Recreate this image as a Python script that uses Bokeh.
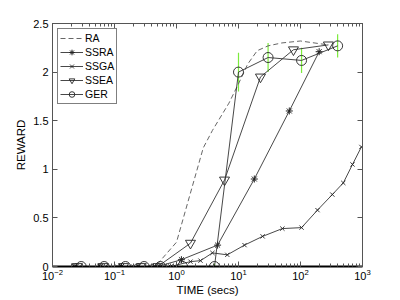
from bokeh.plotting import figure
from bokeh.models import (Range1d, LogAxis, LinearAxis, FixedTicker, LogTicker,
                          Legend, LegendItem, CustomJSTickFormatter)
from bokeh.embed import file_html
from bokeh.resources import INLINE

# ---------------- data ----------------
ra_x = [0.025, 0.07, 0.15, 0.3, 0.5, 1.0, 2.7, 3.8, 7.0, 10.0, 14.0, 20.0, 30.0, 50.0, 100.0, 280.0]
ra_y = [0.0, 0.0, 0.0, 0.0, 0.03, 0.25, 1.22, 1.4, 1.68, 1.88, 2.08, 2.22, 2.27, 2.3, 2.32, 2.28]

ssra_x = [0.024, 0.06, 0.13, 0.24, 0.5, 1.2, 4.6, 18.0, 66.0, 200.0]
ssra_y = [0.0, 0.0, 0.0, 0.0, 0.0, 0.07, 0.22, 0.9, 1.6, 2.21]

ssga_x = [0.023, 0.058, 0.11, 0.2, 0.45, 0.8, 1.68, 2.44, 3.8, 6.6, 12.5, 24.5, 51.0, 104.0, 188.0, 326.0, 490.0, 690.0, 960.0]
ssga_y = [0.0, 0.0, 0.0, 0.0, 0.0, 0.0, 0.05, 0.06, 0.14, 0.12, 0.22, 0.31, 0.39, 0.40, 0.58, 0.74, 0.86, 1.05, 1.23]

ssea_x = [0.025, 0.065, 0.14, 0.27, 0.5, 1.68, 5.95, 22.6, 77.0, 282.0]
ssea_y = [0.0, 0.0, 0.0, 0.0, 0.0, 0.24, 0.89, 1.95, 2.23, 2.28]

ger_x = [0.029, 0.068, 0.15, 0.3, 0.55, 1.25, 4.1, 10.0, 30.0, 104.0, 397.0]
ger_y = [0.0, 0.0, 0.0, 0.0, 0.0, 0.0, 0.0, 2.0, 2.15, 2.12, 2.27]
ger_err = [0.0, 0.0, 0.0, 0.0, 0.0, 0.01, 0.03, 0.2, 0.15, 0.13, 0.12]

y_ticks = [0, 0.5, 1, 1.5, 2, 2.5]

FONT = "Liberation Sans"
LINE_C = "#333333"
MARK_C = "#222222"
AX_C = "#555555"

p = figure(width=400, height=300, x_axis_type="log",
           x_range=Range1d(0.01, 1000), y_range=Range1d(0, 2.5),
           output_backend="svg", toolbar_location=None,
           min_border_left=52, min_border_right=38,
           min_border_top=23, min_border_bottom=34)
p.xgrid.visible = False
p.ygrid.visible = False
p.outline_line_color = AX_C
p.background_fill_color = "white"
p.border_fill_color = "white"

empty_fmt = CustomJSTickFormatter(code="return '';")

xa = p.xaxis[0]
xa.ticker = LogTicker(num_minor_ticks=10)
xa.major_tick_in = 5
xa.major_tick_out = 0
xa.minor_tick_in = 3
xa.minor_tick_out = 0
xa.major_label_text_font = FONT
xa.major_label_text_font_size = "11px"
xa.major_label_text_color = "black"
xa.major_label_standoff = 2
xa.axis_line_color = "black"
xa.axis_line_width = 2
xa.major_tick_line_color = AX_C
xa.minor_tick_line_color = AX_C
xa.axis_label = "TIME (secs)"
xa.axis_label_text_font = FONT
xa.axis_label_text_font_size = "11.5px"
xa.axis_label_text_font_style = "normal"
xa.axis_label_text_color = "black"
xa.axis_label_standoff = 1

ya = p.yaxis[0]
ya.ticker = FixedTicker(ticks=y_ticks)
ya.formatter = CustomJSTickFormatter(code="return String(tick);")
ya.major_tick_in = 5
ya.major_tick_out = 0
ya.minor_tick_in = 0
ya.minor_tick_out = 0
ya.major_label_text_font = FONT
ya.major_label_text_font_size = "11px"
ya.major_label_text_color = "black"
ya.major_label_standoff = 4
ya.axis_line_color = AX_C
ya.major_tick_line_color = AX_C
ya.axis_label = "REWARD"
ya.axis_label_text_font = FONT
ya.axis_label_text_font_size = "11.5px"
ya.axis_label_text_font_style = "normal"
ya.axis_label_text_color = "black"
ya.axis_label_standoff = 3

top = LogAxis(ticker=LogTicker(num_minor_ticks=10), formatter=empty_fmt,
              major_tick_in=5, major_tick_out=0, minor_tick_in=3, minor_tick_out=0,
              axis_line_color=AX_C, major_tick_line_color=AX_C, minor_tick_line_color=AX_C,
              major_label_standoff=0)
p.add_layout(top, "above")
right = LinearAxis(ticker=FixedTicker(ticks=y_ticks), formatter=empty_fmt,
                   major_tick_in=5, major_tick_out=0, minor_tick_in=0, minor_tick_out=0,
                   axis_line_color=AX_C, major_tick_line_color=AX_C,
                   major_label_standoff=0)
p.add_layout(right, "right")

p.segment(x0=ger_x, x1=ger_x, y0=[a - e for a, e in zip(ger_y, ger_err)],
          y1=[a + e for a, e in zip(ger_y, ger_err)], line_color="#7CEB3C", line_width=1.2)

LW = 0.9
r_ra = p.line(ra_x, ra_y, line_color="#555555", line_width=LW, line_dash="5 3")

r_ssra_l = p.line(ssra_x, ssra_y, line_color=LINE_C, line_width=LW)
r_ssra_m = p.scatter(ssra_x, ssra_y, marker="asterisk", size=7, line_color=MARK_C, line_width=1)

r_ssga_l = p.line(ssga_x, ssga_y, line_color=LINE_C, line_width=LW)
r_ssga_m = p.scatter(ssga_x, ssga_y, marker="x", size=6, line_color=MARK_C, line_width=0.9)

r_ssea_l = p.line(ssea_x, ssea_y, line_color=LINE_C, line_width=LW)
r_ssea_m = p.scatter(ssea_x, ssea_y, marker="inverted_triangle", size=10, line_color=MARK_C,
                     fill_color=None, line_width=0.9)

r_ger_l = p.line(ger_x, ger_y, line_color=LINE_C, line_width=LW)
r_ger_m = p.scatter(ger_x, ger_y, marker="circle", size=10, line_color=MARK_C,
                    fill_color=None, line_width=0.9)

legend = Legend(items=[
    LegendItem(label="RA", renderers=[r_ra]),
    LegendItem(label="SSRA", renderers=[r_ssra_l, r_ssra_m]),
    LegendItem(label="SSGA", renderers=[r_ssga_l, r_ssga_m]),
    LegendItem(label="SSEA", renderers=[r_ssea_l, r_ssea_m]),
    LegendItem(label="GER", renderers=[r_ger_l, r_ger_m]),
], location="top_left")
legend.margin = 5
legend.padding = 2
legend.spacing = 0
legend.glyph_width = 23
legend.glyph_height = 14
legend.label_height = 14
legend.label_standoff = 2
legend.label_text_font = FONT
legend.label_text_font_size = "10.5px"
legend.label_text_color = "black"
legend.border_line_color = "black"
legend.border_line_width = 1
legend.background_fill_color = "white"
legend.background_fill_alpha = 1
p.add_layout(legend, "center")

open("out.html", "w").write(file_html(p, INLINE))
